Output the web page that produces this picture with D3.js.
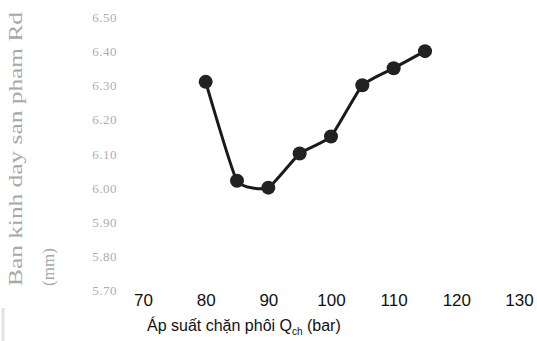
<!DOCTYPE html>
<html>
<head>
<meta charset="utf-8">
<script src="https://cdn.jsdelivr.net/npm/d3@7"></script>
<style>
  body { margin: 0; background: #fff; }
  svg { display: block; }
</style>
</head>
<body>
<div id="chart"></div>
<script>
// data
var pressure = [80, 85, 90, 95, 100, 105, 110, 115];          // Q_ch (bar)
var radius   = [6.31, 6.02, 6.00, 6.10, 6.15, 6.30, 6.35, 6.40]; // Rd (mm)
var xTicks = [70, 80, 90, 100, 110, 120, 130];
var yTicks = [5.70, 5.80, 5.90, 6.00, 6.10, 6.20, 6.30, 6.40, 6.50];

var width = 537, height = 341;

var svg = d3.select("#chart").append("svg")
  .attr("width", width)
  .attr("height", height);

// scales
var x = d3.scaleLinear()
  .domain([70, 130])
  .range([143, 519]);

var y = d3.scaleLinear()
  .domain([5.70, 6.50])
  .range([290, 17]);

// y tick labels (grey serif, no axis line)
var yAxis = svg.append("g")
  .attr("transform", "translate(117,0)")
  .call(d3.axisLeft(y).tickValues(yTicks).tickSize(0).tickPadding(0)
    .tickFormat(d3.format(".2f")));
yAxis.select(".domain").remove();
yAxis.selectAll("text")
  .style("font-family", "'Liberation Serif', 'DejaVu Serif', serif")
  .style("font-size", "13px")
  .style("letter-spacing", "0.5px")
  .style("fill", "#adadad")
  .attr("dy", "0.35em");

// x tick labels (black sans, no axis line)
var xAxis = svg.append("g")
  .attr("transform", "translate(0,292)")
  .call(d3.axisBottom(x).tickValues(xTicks).tickSize(0).tickPadding(0));
xAxis.select(".domain").remove();
xAxis.selectAll("text")
  .style("font-family", "'Liberation Sans', Arial, sans-serif")
  .style("font-size", "17px")
  .style("fill", "#111")
  .attr("dy", "0.8em");

// axis titles
svg.append("text")
  .attr("transform", "translate(22,149) rotate(-90)")
  .attr("text-anchor", "middle")
  .attr("textLength", 274)
  .attr("lengthAdjust", "spacingAndGlyphs")
  .style("font-family", "'Liberation Serif', 'DejaVu Serif', serif")
  .style("font-size", "19px")
  .style("fill", "#a8a8a8")
  .text("Ban kinh day san pham Rd");

svg.append("text")
  .attr("transform", "translate(54,267) rotate(-90)")
  .attr("text-anchor", "middle")
  .style("font-family", "'Liberation Serif', 'DejaVu Serif', serif")
  .style("font-size", "17px")
  .style("fill", "#a8a8a8")
  .text("(mm)");

var xTitle = svg.append("text")
  .attr("x", 147)
  .attr("y", 331)
  .style("font-family", "'Liberation Sans', Arial, sans-serif")
  .style("font-size", "16px")
  .style("fill", "#111");
xTitle.append("tspan").text("Áp suất chặn phôi Q");
xTitle.append("tspan").attr("dy", 4).style("font-size", "10px").text("ch");
xTitle.append("tspan").attr("dy", -4).text(" (bar)");

// faint scan edge at bottom left
svg.append("line")
  .attr("x1", 3).attr("x2", 3)
  .attr("y1", 308).attr("y2", 341)
  .style("stroke", "#e2e2e2")
  .style("stroke-width", 3);

// line + markers
var pts = pressure.map(function(p, i) { return {q: p, r: radius[i]}; });

svg.append("path")
  .datum(pts)
  .attr("fill", "none")
  .attr("stroke", "#1a1a1a")
  .attr("stroke-width", 3)
  .attr("d", d3.line()
    .curve(d3.curveCardinal.tension(0.55))
    .x(function(d) { return x(d.q); })
    .y(function(d) { return y(d.r); }));

svg.append("g")
  .selectAll("circle")
  .data(pts)
  .enter().append("circle")
  .attr("cx", function(d) { return x(d.q); })
  .attr("cy", function(d) { return y(d.r); })
  .attr("r", 7)
  .style("fill", "#222");
</script>
</body>
</html>
